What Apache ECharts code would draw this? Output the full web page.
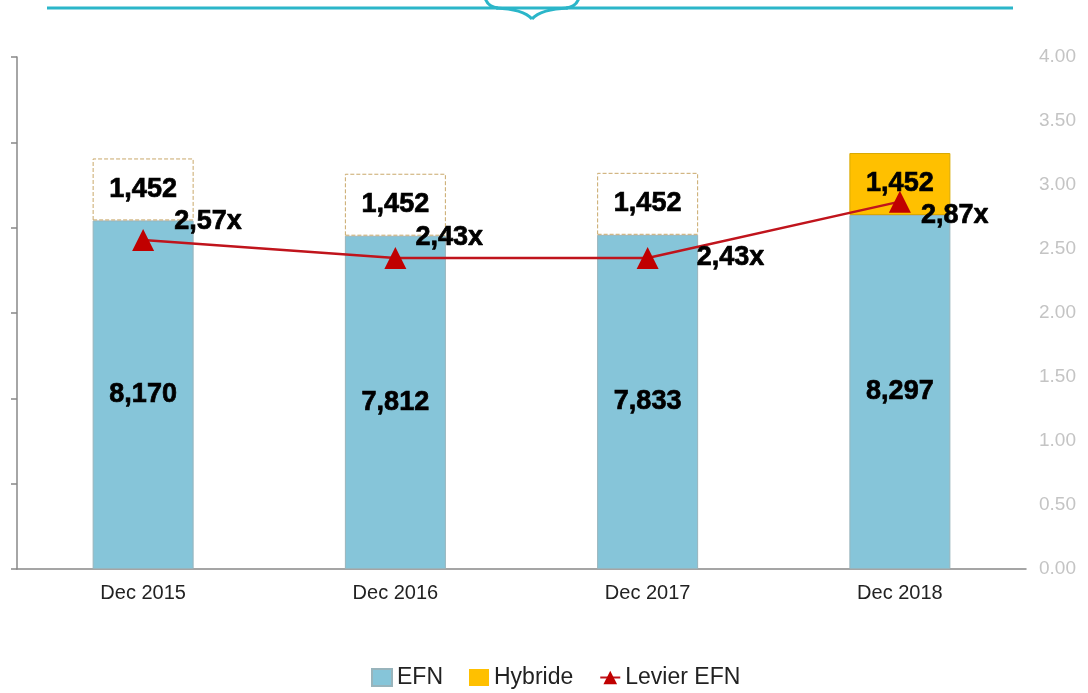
<!DOCTYPE html>
<html>
<head>
<meta charset="utf-8">
<style>
  html, body { margin: 0; padding: 0; background: #fff; }
  #main { width: 1088px; height: 693px; }
</style>
<script src="https://cdn.jsdelivr.net/npm/echarts@6/dist/echarts.min.js"></script>
</head>
<body>
<div id="main"></div>
<script>
// données
var categories = ['Dec 2015', 'Dec 2016', 'Dec 2017', 'Dec 2018'];
var efn = [8170, 7812, 7833, 8297];
var hybride = [1452, 1452, 1452, 1452];
var levier = [2.57, 2.43, 2.43, 2.87];
var rightTicks = [0, 4, 0.5];

// position des étiquettes du levier, point par point
var levierOffsets = [[15, -18], [4, -20], [33, 0], [5, 14]];

var myChart = echarts.init(document.getElementById('main'));

var fontFam = '"Liberation Sans", Arial, sans-serif';
var boldLabel = {
    fontFamily: fontFam, fontWeight: 'bold', fontSize: 27, color: '#000',
    textBorderColor: '#000', textBorderWidth: 0.7
};

var fmtNum = function (v) {
    return String(v).replace(/\B(?=(\d{3})+(?!\d))/g, ',');
};

var hybrideData = hybride.map(function (v, i) {
    if (i < 3) {
        return {
            value: v,
            itemStyle: { color: '#fff', borderColor: '#c9a86a', borderType: 'dashed', borderWidth: 1 }
        };
    }
    return { value: v, itemStyle: { color: '#FFC000', borderColor: '#d8a900', borderWidth: 1 } };
});

var levierData = levier.map(function (v, i) {
    return { value: v, label: { offset: levierOffsets[i] } };
});

// accolade décorative en haut
var braceStyle = { stroke: '#2bb6c9', lineWidth: 3, fill: null };
var brace = [
    [485, -2, 488, 7, 498, 8],
    [496, 8, 523, 9, 532, 19],
    [532, 19, 541, 9, 568, 8],
    [566, 8, 576, 7, 579, -2]
].map(function (c) {
    return {
        type: 'bezierCurve',
        shape: { x1: c[0], y1: c[1], cpx1: c[2], cpy1: c[3], x2: c[4], y2: c[5] },
        style: braceStyle
    };
});

myChart.setOption({
    animation: false,
    textStyle: { fontFamily: fontFam },
    graphic: [
        {
            type: 'line',
            shape: { x1: 47, y1: 8, x2: 1013, y2: 8 },
            style: { stroke: '#2bb6c9', lineWidth: 3 }
        }
    ].concat(brace),
    grid: { left: 17, right: 62, top: 57, bottom: 124 },
    legend: {
        top: 661,
        left: 366,
        itemGap: 26,
        itemWidth: 20,
        itemHeight: 17,
        textStyle: { fontFamily: fontFam, fontSize: 23, color: '#222' },
        data: [
            { name: 'EFN', icon: 'rect' },
            { name: 'Hybride', icon: 'rect' },
            { name: 'Levier EFN' }
        ]
    },
    xAxis: {
        type: 'category',
        data: categories,
        axisLine: { lineStyle: { color: '#888', width: 1.5 } },
        axisTick: { length: 8, lineStyle: { color: '#888', width: 1.5 } },
        axisLabel: { fontSize: 20, color: '#222', margin: 14 }
    },
    yAxis: [
        {
            type: 'value',
            min: 0,
            max: 12000,
            interval: 2000,
            axisLine: { show: true, lineStyle: { color: '#888', width: 1.5 } },
            axisTick: { show: true, length: 6, lineStyle: { color: '#888', width: 1.5 } },
            axisLabel: { show: false },
            splitLine: { show: false }
        },
        {
            type: 'value',
            min: rightTicks[0],
            max: rightTicks[1],
            interval: rightTicks[2],
            axisLine: { show: false },
            axisTick: { show: false },
            splitLine: { show: false },
            axisLabel: {
                color: '#c4c4c4',
                fontSize: 19,
                margin: 13,
                formatter: function (v) { return v.toFixed(2); }
            }
        }
    ],
    series: [
        {
            name: 'EFN',
            type: 'bar',
            stack: 'total',
            barWidth: 101,
            data: efn,
            itemStyle: { color: '#86C5D9', borderColor: '#98b4bc', borderWidth: 1 },
            label: Object.assign({ show: true, position: 'inside', formatter: function (p) { return fmtNum(p.value); } }, boldLabel)
        },
        {
            name: 'Hybride',
            type: 'bar',
            stack: 'total',
            data: hybrideData,
            itemStyle: { color: '#FFC000' },
            label: Object.assign({ show: true, position: 'inside', formatter: function (p) { return fmtNum(p.value); } }, boldLabel)
        },
        {
            name: 'Levier EFN',
            type: 'line',
            yAxisIndex: 1,
            data: levierData,
            symbol: 'triangle',
            symbolSize: 22,
            color: '#C00000',
            lineStyle: { color: '#C0141C', width: 2.5 },
            itemStyle: { color: '#C00000' },
            label: Object.assign({
                show: true,
                position: 'right',
                distance: 5,
                formatter: function (p) { return p.value.toFixed(2).replace('.', ',') + 'x'; }
            }, boldLabel),
            z: 5
        }
    ]
});
</script>
</body>
</html>
